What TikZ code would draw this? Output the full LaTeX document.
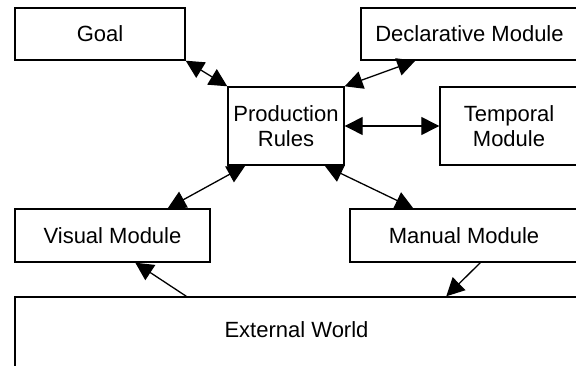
\documentclass[tikz,border=0pt]{standalone}
\usepackage{fontspec}
\setmainfont{Liberation Sans}
\usetikzlibrary{arrows.meta}
\begin{document}
\begin{tikzpicture}[x=1pt,y=-1pt,
  box/.style={draw=black, line width=1.4pt, rectangle, inner sep=0pt, align=center,
    font=\fontsize{22}{25}\selectfont},
  link/.style={line width=1.3pt, draw=black},
  tipa/.style={-{Triangle[length=18pt,width=18pt]}},
  tipb/.style={{Triangle[length=18pt,width=18pt]}-{Triangle[length=18pt,width=18pt]}}]
\useasboundingbox (0,0) rectangle (576,366);
\node[box, minimum width=170pt, minimum height=52pt] (goal) at (100,34) {Goal};
\node[box, minimum width=217pt, minimum height=52pt] (decl) at (469.5,34) {Declarative Module};
\node[box, minimum width=116pt, minimum height=78pt] (pr) at (286,126) {Production\\Rules};
\node[box, minimum width=138pt, minimum height=78pt] (temp) at (509,126) {Temporal\\Module};
\node[box, minimum width=195pt, minimum height=53pt] (visual) at (112.5,235.5) {Visual Module};
\node[box, minimum width=228pt, minimum height=53pt] (manual) at (464,235.5) {Manual Module};
\node[box, minimum width=563pt, minimum height=70pt, text depth=5pt] (ext) at (296.5,332) {External World};
\draw[link, tipb] (goal.south east) -- (pr.north west);
\draw[link, tipb] (pr.north east) -- ([xshift=55pt]decl.south west);
\draw[link, tipb] (pr.east) -- (temp.west);
\draw[link, tipb] ([xshift=-43pt]visual.north east) -- ([xshift=18pt]pr.south west);
\draw[link, tipb] ([xshift=-20pt]pr.south east) -- ([xshift=64pt]manual.north west);
\draw[link, tipa] ([xshift=131pt]manual.south west) -- ([xshift=432pt]ext.north west);
\draw[link, tipa] ([xshift=172pt]ext.north west) -- ([xshift=121pt]visual.south west);
\end{tikzpicture}
\end{document}
